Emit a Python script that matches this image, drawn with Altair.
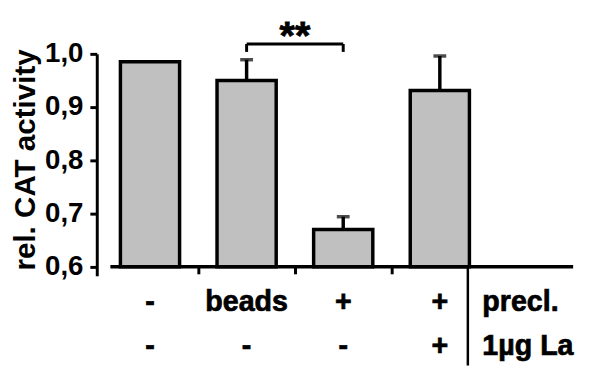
import altair as alt
import pandas as pd

# ---- data ----
conditions = ["control", "beads", "precl.", "precl. + La"]
positions = [1, 2, 3, 4]
activity = [0.985, 0.950, 0.670, 0.931]
err_top = [None, 0.989, 0.694, 0.996]
row1_labels = ["-", "beads", "+", "+"]
row2_labels = ["-", "-", "-", "+"]
row_names = ["precl.", "1µg La"]
y_ticks = [0.6, 0.7, 0.8, 0.9, 1.0]
sig_pair = [2, 3]
sig_text = "**"

# ---- layout / style constants ----
FONT = "Liberation Sans"
group_edges = [1.5, 2.5, 3.5]
X_DOMAIN = [0.5, 5.38]
Y_DOMAIN = [0.583, 1.0]
BASE = 0.6
W, H = 488, 225
ROW_Y = [261, 305]

df = pd.DataFrame({"cond": conditions, "pos": positions, "value": activity,
                   "err": err_top, "r1": row1_labels, "r2": row2_labels})
df_err = df.dropna(subset=["err"])

xs = alt.Scale(domain=X_DOMAIN, nice=False, zero=False)
ys = alt.Scale(domain=Y_DOMAIN, nice=False, zero=False)

yaxis = alt.Axis(values=y_ticks,
                 labelExpr="replace(format(datum.value, '.1f'), '.', ',')",
                 labelFont=FONT, labelFontWeight="bold", labelFontSize=28,
                 labelColor="black", labelPadding=7,
                 tickColor="black", tickSize=7, tickWidth=3,
                 domainColor="black", domainWidth=3, grid=False,
                 title="rel. CAT activity", titleFont=FONT, titleFontWeight="bold",
                 titleFontSize=30, titleColor="black", titleAngle=-90,
                 titleX=-72, titleY=107, titleAlign="center", titleBaseline="middle")
xaxis = alt.Axis(values=group_edges, labels=False, domain=False, grid=False,
                 tickColor="black", tickSize=7, tickWidth=3, offset=-9, title=None)

bars = alt.Chart(df).mark_bar(size=60, fill="#c0c0c0", stroke="black",
                              strokeWidth=3.5).encode(
    x=alt.X("pos:Q", scale=xs, axis=xaxis),
    y=alt.Y("value:Q", scale=ys, axis=yaxis),
    y2=alt.datum(BASE),
)

err_rule = alt.Chart(df_err).mark_rule(color="black", strokeWidth=3.5).encode(
    x=alt.X("pos:Q", scale=xs), y=alt.Y("value:Q", scale=ys), y2="err:Q")
err_cap = alt.Chart(df_err).mark_tick(orient="horizontal", size=13, thickness=3.5,
                                      color="black").encode(
    x=alt.X("pos:Q", scale=xs), y=alt.Y("err:Q", scale=ys))

baseline = alt.Chart(df.head(1)).mark_rule(color="black", strokeWidth=3.5).encode(
    x=alt.datum(0.59), x2=alt.datum(X_DOMAIN[1]), y=alt.datum(BASE))
divider = alt.Chart(df.head(1)).mark_rule(color="black", strokeWidth=2.5).encode(
    x=alt.datum(4.29), y=alt.datum(BASE), y2=alt.value(316))

sig_df = pd.DataFrame({"x": [sig_pair[0]], "x2": [sig_pair[1]], "mid": [sum(sig_pair) / 2]})
brk_h = alt.Chart(sig_df).mark_rule(color="black", strokeWidth=3).encode(
    x="x:Q", x2="x2:Q", y=alt.datum(1.0185))
brk_l = alt.Chart(sig_df).mark_rule(color="black", strokeWidth=3).encode(
    x="x:Q", y=alt.datum(1.0185), y2=alt.datum(1.0037))
brk_r = alt.Chart(sig_df).mark_rule(color="black", strokeWidth=3).encode(
    x="x2:Q", y=alt.datum(1.0185), y2=alt.datum(1.0037))
stars = alt.Chart(sig_df).mark_text(text=sig_text, font=FONT, fontWeight="bold",
                                    fontSize=40, baseline="alphabetic",
                                    color="black", stroke="black", strokeWidth=0.8).encode(
    x="mid:Q", y=alt.value(-5))

txt = dict(font=FONT, fontWeight="bold", fontSize=29, baseline="alphabetic",
           color="black", stroke="black", strokeWidth=0.7)
row1 = alt.Chart(df).mark_text(**txt).encode(x="pos:Q", y=alt.value(ROW_Y[0]), text="r1:N")
row2 = alt.Chart(df).mark_text(**txt).encode(x="pos:Q", y=alt.value(ROW_Y[1]), text="r2:N")
name1 = alt.Chart(df.head(1)).mark_text(align="left", text=row_names[0], **txt).encode(
    x=alt.datum(4.44), y=alt.value(ROW_Y[0]))
name2 = alt.Chart(df.head(1)).mark_text(align="left", text=row_names[1], **txt).encode(
    x=alt.datum(4.44), y=alt.value(ROW_Y[1]))

chart = alt.layer(bars, err_rule, err_cap, baseline, divider, brk_h, brk_l, brk_r,
                  stars, row1, row2, name1, name2).properties(
    width=W, height=H,
    autosize=alt.AutoSizeParams(type="none"),
    padding={"left": 90, "top": 44, "right": 6, "bottom": 91},
).configure_view(strokeWidth=0)

chart.save("out.html", embed_options={"renderer": "svg", "actions": False})
